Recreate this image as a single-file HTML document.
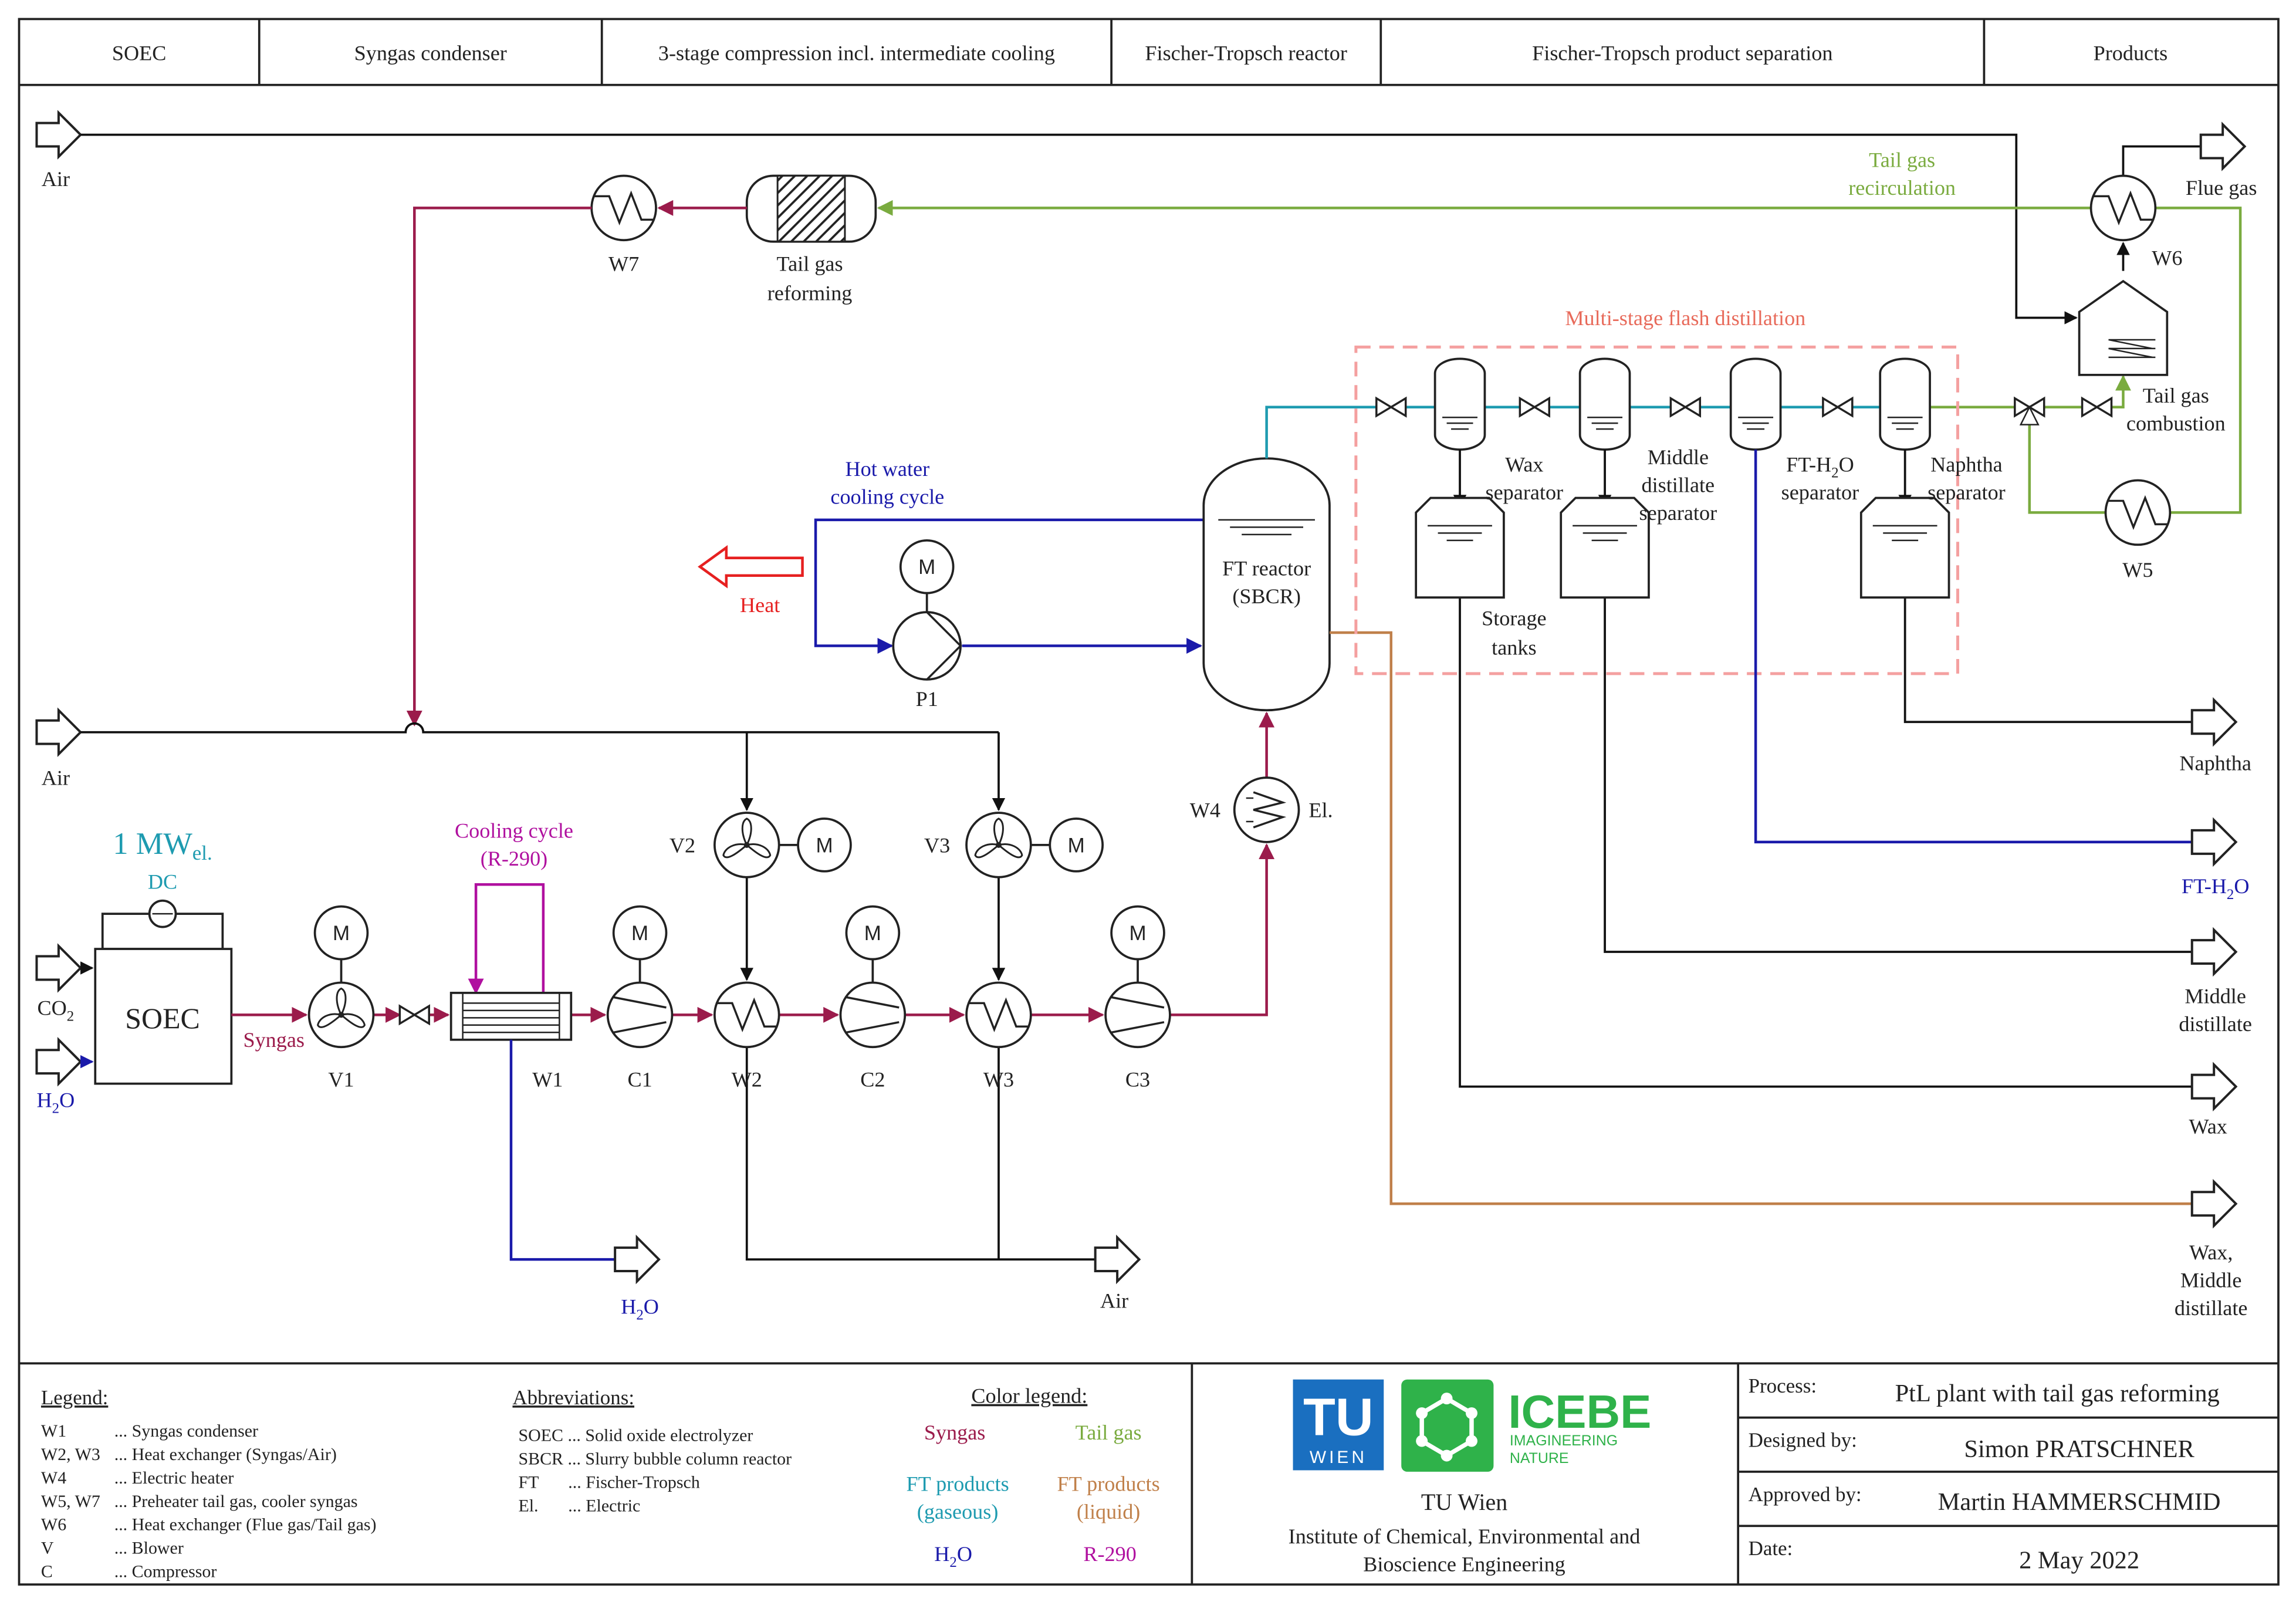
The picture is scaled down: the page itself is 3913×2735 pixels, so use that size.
<!DOCTYPE html>
<html><head><meta charset="utf-8"><style>
html,body{margin:0;padding:0;background:#fff}
svg{display:block}
text{font-family:"Liberation Serif",serif;font-size:14.5px;fill:#222}
.c{text-anchor:middle}
</style></head><body>
<svg width="3913" height="2735" viewBox="0 0 1568 1096" xmlns="http://www.w3.org/2000/svg">
<defs>
<marker id="a" viewBox="0 0 10 10" refX="9" refY="5" markerWidth="6" markerHeight="6" orient="auto-start-reverse"><path d="M0,0L10,5L0,10z" fill="context-stroke"/></marker>
<marker id="ak" viewBox="0 0 10 10" refX="9" refY="5" markerWidth="6" markerHeight="6" orient="auto"><path d="M0,0L10,5L0,10z" fill="#111"/></marker>
<marker id="am" viewBox="0 0 10 10" refX="9" refY="5" markerWidth="6" markerHeight="6" orient="auto"><path d="M0,0L10,5L0,10z" fill="#9b1b4b"/></marker>
<marker id="ab" viewBox="0 0 10 10" refX="9" refY="5" markerWidth="6" markerHeight="6" orient="auto"><path d="M0,0L10,5L0,10z" fill="#1a1aaa"/></marker>
<marker id="ag" viewBox="0 0 10 10" refX="9" refY="5" markerWidth="6" markerHeight="6" orient="auto"><path d="M0,0L10,5L0,10z" fill="#7aab3f"/></marker>
<pattern id="h" width="6" height="6" patternUnits="userSpaceOnUse" patternTransform="rotate(45)"><rect width="6" height="6" fill="#fff"/><line x1="0" y1="0" x2="0" y2="6" stroke="#222" stroke-width="3"/></pattern>
<g id="arr"><path d="M0,-8H15V-15L30,0L15,15V8H0Z" fill="#fff" stroke="#222" stroke-width="1.6"/></g>
<g id="mot"><circle r="18" fill="#fff" stroke="#222" stroke-width="1.5"/><text y="5" class="c" style="font-family:'Liberation Sans',sans-serif;font-size:14px">M</text></g>
<g id="hx"><circle r="22" fill="#fff" stroke="#222" stroke-width="1.5"/><path d="M-20,-8L-10,-8L-3,10L5,-10L12,8L20,8" fill="none" stroke="#222" stroke-width="1.4"/></g>
<g id="cmp"><circle r="22" fill="#fff" stroke="#222" stroke-width="1.5"/><path d="M-18,-12L18,-5M-18,12L18,5" stroke="#222" stroke-width="1.4"/></g>
<g id="blw"><circle r="22" fill="#fff" stroke="#222" stroke-width="1.5"/><path d="M0,0C-4,-8 -4,-16 0,-18C4,-16 4,-8 0,0ZM0,0C8,-2 15,2 16,7C14,11 7,6 0,0ZM0,0C-8,-2 -15,2 -16,7C-14,11 -7,6 0,0Z" fill="#fff" stroke="#222" stroke-width="1.2"/><circle r="2" fill="#222"/></g>
<g id="vlv"><path d="M-10,-6L10,6L10,-6L-10,6Z" fill="#fff" stroke="#222" stroke-width="1.4"/></g>
<g id="sep"><path d="M-17,-50A17,10 0 0 1 17,-50V-8A17,10 0 0 1 -17,-8Z" fill="#fff" stroke="#222" stroke-width="1.5"/><path d="M-12,-20H12M-9,-16H9M-6,-12H6" stroke="#222"/></g>
<g id="tank"><path d="M-30,-35L-20,-45H20L30,-35V23H-30Z" fill="#fff" stroke="#222" stroke-width="1.5"/><path d="M-22,-26H22M-15,-21H15M-9,-16H9" stroke="#222"/></g>
</defs>

<!-- frame -->
<rect x="13" y="13" width="1543" height="1069" fill="none" stroke="#222" stroke-width="1.5"/>
<line x1="13" y1="58" x2="1556" y2="58" stroke="#222" stroke-width="1.5"/>
<g stroke="#222" stroke-width="1.5"><line x1="177" y1="13" x2="177" y2="58"/><line x1="411" y1="13" x2="411" y2="58"/><line x1="759" y1="13" x2="759" y2="58"/><line x1="943" y1="13" x2="943" y2="58"/><line x1="1355" y1="13" x2="1355" y2="58"/>
<line x1="13" y1="931" x2="1556" y2="931"/><line x1="814" y1="931" x2="814" y2="1082"/><line x1="1187" y1="931" x2="1187" y2="1082"/>
<line x1="1187" y1="968" x2="1556" y2="968"/><line x1="1187" y1="1005" x2="1556" y2="1005"/><line x1="1187" y1="1042" x2="1556" y2="1042"/></g>
<g class="c"><text x="95" y="41" class="c">SOEC</text><text x="294" y="41" class="c">Syngas condenser</text><text x="585" y="41" class="c">3-stage compression incl. intermediate cooling</text><text x="851" y="41" class="c">Fischer-Tropsch reactor</text><text x="1149" y="41" class="c">Fischer-Tropsch product separation</text><text x="1455" y="41" class="c">Products</text></g>

<!-- top air line -->
<use href="#arr" x="25" y="92"/><text x="38" y="127" class="c">Air</text>
<polyline points="55,92 1377,92 1377,217 1418,217" fill="none" stroke="#111" stroke-width="1.5" marker-end="url(#ak)"/>
<!-- flue gas -->
<polyline points="1450,185 1450,166" fill="none" stroke="#111" stroke-width="1.5" marker-end="url(#ak)"/>
<polyline points="1450,120 1450,100 1503,100" fill="none" stroke="#111" stroke-width="1.5"/>
<use href="#arr" x="1503" y="100"/><text x="1517" y="133" class="c">Flue gas</text>
<!-- green tail gas -->
<polyline points="1472,142 1530,142 1530,350 1482,350" fill="none" stroke="#7aab3f" stroke-width="1.8"/>
<polyline points="1428,142 600,142" fill="none" stroke="#7aab3f" stroke-width="1.8" marker-end="url(#ag)"/>
<polyline points="1318,278 1376,278" fill="none" stroke="#7aab3f" stroke-width="1.8"/>
<polyline points="1396,278 1422,278" fill="none" stroke="#7aab3f" stroke-width="1.8"/>
<polyline points="1442,278 1450,278 1450,257" fill="none" stroke="#7aab3f" stroke-width="1.8" marker-end="url(#ag)"/>
<polyline points="1386,288 1386,350 1438,350" fill="none" stroke="#7aab3f" stroke-width="1.8"/>
<text x="1299" y="114" class="c" style="fill:#7aab3f">Tail gas</text><text x="1299" y="133" class="c" style="fill:#7aab3f">recirculation</text>
<use href="#hx" x="1450" y="142"/><text x="1480" y="181" class="c">W6</text>
<use href="#hx" x="1460" y="350"/><text x="1460" y="394" class="c">W5</text>
<use href="#vlv" x="1432" y="278"/><use href="#vlv" x="1386" y="278"/><path d="M1380,290L1392,290L1386,278Z" fill="#fff" stroke="#222"/>
<!-- combustion -->
<path d="M1420,213L1450,192L1480,213V256H1420Z" fill="#fff" stroke="#222" stroke-width="1.5"/>
<path d="M1440,232H1472M1440,232L1470,238M1440,238H1472M1440,238L1470,244M1440,244H1472" stroke="#222" fill="none"/>
<text x="1486" y="275" class="c">Tail gas</text><text x="1486" y="294" class="c">combustion</text>
<!-- reformer + W7 -->
<rect x="510" y="120" width="88" height="45" rx="18" fill="#fff" stroke="#222" stroke-width="1.5"/>
<rect x="531" y="120" width="46" height="45" fill="url(#h)" stroke="#222" stroke-width="1.2"/>
<text x="553" y="185" class="c">Tail gas</text><text x="553" y="205" class="c">reforming</text>
<polyline points="510,142 450,142" fill="none" stroke="#9b1b4b" stroke-width="1.8" marker-end="url(#am)"/>
<use href="#hx" x="426" y="142"/><text x="426" y="185" class="c">W7</text>
<polyline points="404,142 283,142 283,495 M283,505 283,681" fill="none" stroke="#9b1b4b" stroke-width="1.8" marker-end="url(#am)"/>
<!-- mid air line -->
<use href="#arr" x="25" y="500"/><text x="38" y="536" class="c">Air</text>
<path d="M55,500H277A6,6 0 0 1 289,500H682" fill="none" stroke="#111" stroke-width="1.5"/>
<polyline points="510,500 510,553" fill="none" stroke="#111" stroke-width="1.5" marker-end="url(#ak)"/>
<polyline points="682,500 682,553" fill="none" stroke="#111" stroke-width="1.5" marker-end="url(#ak)"/>
<polyline points="510,599 510,669" fill="none" stroke="#111" stroke-width="1.5" marker-end="url(#ak)"/>
<polyline points="682,599 682,669" fill="none" stroke="#111" stroke-width="1.5" marker-end="url(#ak)"/>
<polyline points="510,715 510,860 750,860" fill="none" stroke="#111" stroke-width="1.5"/>
<polyline points="682,715 682,860" fill="none" stroke="#111" stroke-width="1.5"/>
<use href="#arr" x="748" y="860"/><text x="761" y="893" class="c">Air</text>
<line x1="532" y1="577" x2="545" y2="577" stroke="#222" stroke-width="1.5"/><line x1="704" y1="577" x2="717" y2="577" stroke="#222" stroke-width="1.5"/>
<use href="#blw" x="510" y="577"/><use href="#mot" x="563" y="577"/><text x="466" y="582" class="c">V2</text>
<use href="#blw" x="682" y="577"/><use href="#mot" x="735" y="577"/><text x="640" y="582" class="c">V3</text>
<!-- SOEC -->
<rect x="70" y="624" width="82" height="24" fill="none" stroke="#222" stroke-width="1.5"/>
<rect x="65" y="648" width="93" height="92" fill="#fff" stroke="#222" stroke-width="1.5"/>
<circle cx="111" cy="624" r="9" fill="#fff" stroke="#222" stroke-width="1.5"/><path d="M104,624H118" stroke="#222"/>
<text x="111" y="702" class="c" style="font-size:20px">SOEC</text>
<text x="111" y="583" class="c" style="fill:#1e9bb0;font-size:21px">1 MW<tspan style="font-size:14px" dy="4">el.</tspan></text>
<text x="111" y="607" class="c" style="fill:#1e9bb0">DC</text>
<use href="#arr" x="25" y="661"/><polyline points="55,661 63,661" stroke="#111" stroke-width="1.5" marker-end="url(#ak)"/>
<text x="38" y="693" class="c">CO<tspan dy="4" style="font-size:10px">2</tspan></text>
<use href="#arr" x="25" y="725"/><polyline points="55,725 63,725" stroke="#1a1aaa" stroke-width="1.5" marker-end="url(#ab)"/>
<text x="38" y="756" class="c" style="fill:#1a1aaa">H<tspan dy="4" style="font-size:10px">2</tspan><tspan dy="-4">O</tspan></text>
<!-- syngas line -->
<g fill="none" stroke="#9b1b4b" stroke-width="1.8">
<polyline points="158,693 209,693" marker-end="url(#am)"/>
<polyline points="255,693 273,693" marker-end="url(#am)"/>
<polyline points="293,693 306,693" marker-end="url(#am)"/>
<polyline points="390,693 413,693" marker-end="url(#am)"/>
<polyline points="459,693 486,693" marker-end="url(#am)"/>
<polyline points="532,693 572,693" marker-end="url(#am)"/>
<polyline points="618,693 658,693" marker-end="url(#am)"/>
<polyline points="704,693 753,693" marker-end="url(#am)"/>
<polyline points="799,693 865,693 865,577" marker-end="url(#am)"/>
<polyline points="865,531 865,487" marker-end="url(#am)"/>
</g>
<text x="187" y="715" class="c" style="fill:#9b1b4b">Syngas</text>
<use href="#blw" x="233" y="693"/><use href="#vlv" x="283" y="693"/>
<line x1="233" y1="655" x2="233" y2="671" stroke="#222" stroke-width="1.5"/><use href="#mot" x="233" y="637"/>
<!-- W1 -->
<polyline points="325,678 325,604 371,604 371,678" fill="none" stroke="#b0109f" stroke-width="1.8" marker-start="url(#a)"/>
<rect x="308" y="678" width="82" height="32" fill="#fff" stroke="#222" stroke-width="1.5"/>
<path d="M316,678V710M382,678V710M316,685H382M316,690H382M316,695H382M316,700H382M316,705H382" stroke="#222"/>
<text x="351" y="572" class="c" style="fill:#b0109f">Cooling cycle</text><text x="351" y="591" class="c" style="fill:#b0109f">(R-290)</text>
<polyline points="349,710 349,860 420,860" fill="none" stroke="#1a1aaa" stroke-width="1.8"/>
<use href="#arr" x="420" y="860"/><text x="437" y="897" class="c" style="fill:#1a1aaa">H<tspan dy="4" style="font-size:10px">2</tspan><tspan dy="-4">O</tspan></text>
<use href="#cmp" x="437" y="693"/><line x1="437" y1="655" x2="437" y2="671" stroke="#222" stroke-width="1.5"/><use href="#mot" x="437" y="637"/>
<use href="#hx" x="510" y="693"/>
<use href="#cmp" x="596" y="693"/><line x1="596" y1="655" x2="596" y2="671" stroke="#222" stroke-width="1.5"/><use href="#mot" x="596" y="637"/>
<use href="#hx" x="682" y="693"/>
<use href="#cmp" x="777" y="693"/><line x1="777" y1="655" x2="777" y2="671" stroke="#222" stroke-width="1.5"/><use href="#mot" x="777" y="637"/>
<g class="c"><text x="233" y="742" class="c">V1</text><text x="374" y="742" class="c">W1</text><text x="437" y="742" class="c">C1</text><text x="510" y="742" class="c">W2</text><text x="596" y="742" class="c">C2</text><text x="682" y="742" class="c">W3</text><text x="777" y="742" class="c">C3</text></g>
<!-- W4 -->
<circle cx="865" cy="553" r="22" fill="#fff" stroke="#222" stroke-width="1.5"/>
<path d="M856,541L876,548L856,553L876,558L856,565" fill="none" stroke="#222" stroke-width="1.4"/><path d="M851,545H856M851,561H856" stroke="#222"/>
<text x="823" y="558" class="c">W4</text><text x="902" y="558" class="c">El.</text>
<!-- hot water cycle -->
<polyline points="822,355 557,355 557,441 609,441" fill="none" stroke="#1a1aaa" stroke-width="1.8" marker-end="url(#ab)"/>
<polyline points="657,441 820,441" fill="none" stroke="#1a1aaa" stroke-width="1.8" marker-end="url(#ab)"/>
<text x="606" y="325" class="c" style="fill:#1a1aaa">Hot water</text><text x="606" y="344" class="c" style="fill:#1a1aaa">cooling cycle</text>
<circle cx="633" cy="441" r="23" fill="#fff" stroke="#222" stroke-width="1.5"/><path d="M633,418L656,441L633,464" fill="none" stroke="#222" stroke-width="1.4"/>
<line x1="633" y1="405" x2="633" y2="418" stroke="#222" stroke-width="1.5"/><use href="#mot" x="633" y="387"/>
<text x="633" y="482" class="c">P1</text>
<path d="M548,381V393H496V400L478,387L496,374V381Z" fill="#fff" stroke="#e62020" stroke-width="1.8"/>
<text x="519" y="418" class="c" style="fill:#e62020">Heat</text>
<!-- FT reactor -->
<path d="M822,345A43,32 0 0 1 908,345V453A43,32 0 0 1 822,453Z" fill="#fff" stroke="#222" stroke-width="1.5"/>
<path d="M832,355H898M840,360H890M848,365H882" stroke="#222"/>
<text x="865" y="393" class="c">FT reactor</text><text x="865" y="412" class="c">(SBCR)</text>
<!-- brown -->
<polyline points="908,432 950,432 950,822 1503,822" fill="none" stroke="#c0804a" stroke-width="1.8"/>
<use href="#arr" x="1497" y="822"/>
<text x="1510" y="860" class="c">Wax,</text><text x="1510" y="879" class="c">Middle</text><text x="1510" y="898" class="c">distillate</text>
<!-- teal line -->
<g fill="none" stroke="#1e9bb0" stroke-width="1.8">
<polyline points="865,313 865,278 940,278"/><polyline points="960,278 980,278"/><polyline points="1014,278 1038,278"/><polyline points="1058,278 1079,278"/><polyline points="1113,278 1141,278"/><polyline points="1161,278 1182,278"/><polyline points="1216,278 1245,278"/><polyline points="1265,278 1284,278"/>
</g>
<use href="#vlv" x="950" y="278"/><use href="#vlv" x="1048" y="278"/><use href="#vlv" x="1151" y="278"/><use href="#vlv" x="1255" y="278"/>
<rect x="926" y="237" width="411" height="223" fill="none" stroke="#f4a0a0" stroke-width="2" stroke-dasharray="10,6"/>
<text x="1151" y="222" class="c" style="fill:#e86a5a">Multi-stage flash distillation</text>
<use href="#sep" x="997" y="305"/><use href="#sep" x="1096" y="305"/><use href="#sep" x="1199" y="305"/><use href="#sep" x="1301" y="305"/>
<g fill="none" stroke="#111" stroke-width="1.5">
<polyline points="997,307 997,346" marker-end="url(#ak)"/><polyline points="1096,307 1096,346" marker-end="url(#ak)"/><polyline points="1301,307 1301,346" marker-end="url(#ak)"/>
<polyline points="997,408 997,742 1503,742"/><polyline points="1096,408 1096,650 1503,650"/><polyline points="1301,408 1301,493 1503,493"/>
</g>
<polyline points="1199,307 1199,575 1503,575" fill="none" stroke="#1a1aaa" stroke-width="1.8"/>
<use href="#tank" x="997" y="385"/><use href="#tank" x="1096" y="385"/><use href="#tank" x="1301" y="385"/>
<text x="1041" y="322" class="c">Wax</text><text x="1041" y="341" class="c">separator</text>
<text x="1146" y="317" class="c">Middle</text><text x="1146" y="336" class="c">distillate</text><text x="1146" y="355" class="c">separator</text>
<text x="1243" y="322" class="c">FT-H<tspan dy="4" style="font-size:10px">2</tspan><tspan dy="-4">O</tspan></text><text x="1243" y="341" class="c">separator</text>
<text x="1343" y="322" class="c">Naphtha</text><text x="1343" y="341" class="c">separator</text>
<text x="1034" y="427" class="c">Storage</text><text x="1034" y="447" class="c">tanks</text>
<use href="#arr" x="1497" y="493"/><text x="1513" y="526" class="c">Naphtha</text>
<use href="#arr" x="1497" y="575"/><text x="1513" y="610" class="c" style="fill:#1a1aaa">FT-H<tspan dy="4" style="font-size:10px">2</tspan><tspan dy="-4">O</tspan></text>
<use href="#arr" x="1497" y="650"/><text x="1513" y="685" class="c">Middle</text><text x="1513" y="704" class="c">distillate</text>
<use href="#arr" x="1497" y="742"/><text x="1508" y="774" class="c">Wax</text>

<!-- legend -->
<g style="font-size:12px">
<text x="28" y="959" style="font-size:14px;text-decoration:underline">Legend:</text>
<text x="28" y="981" style="font-size:12px">W1</text><text x="78" y="981" style="font-size:12px">... Syngas condenser</text>
<text x="28" y="997" style="font-size:12px">W2, W3</text><text x="78" y="997" style="font-size:12px">... Heat exchanger (Syngas/Air)</text>
<text x="28" y="1013" style="font-size:12px">W4</text><text x="78" y="1013" style="font-size:12px">... Electric heater</text>
<text x="28" y="1029" style="font-size:12px">W5, W7</text><text x="78" y="1029" style="font-size:12px">... Preheater tail gas, cooler syngas</text>
<text x="28" y="1045" style="font-size:12px">W6</text><text x="78" y="1045" style="font-size:12px">... Heat exchanger (Flue gas/Tail gas)</text>
<text x="28" y="1061" style="font-size:12px">V</text><text x="78" y="1061" style="font-size:12px">... Blower</text>
<text x="28" y="1077" style="font-size:12px">C</text><text x="78" y="1077" style="font-size:12px">... Compressor</text>
<text x="350" y="959" style="font-size:14px;text-decoration:underline">Abbreviations:</text>
<text x="354" y="984" style="font-size:12px">SOEC ... Solid oxide electrolyzer</text>
<text x="354" y="1000" style="font-size:12px">SBCR ... Slurry bubble column reactor</text>
<text x="354" y="1016" style="font-size:12px">FT</text><text x="388" y="1016" style="font-size:12px">... Fischer-Tropsch</text>
<text x="354" y="1032" style="font-size:12px">El.</text><text x="388" y="1032" style="font-size:12px">... Electric</text>
</g>
<text x="703" y="958" class="c" style="text-decoration:underline">Color legend:</text>
<text x="652" y="983" class="c" style="fill:#9b1b4b">Syngas</text><text x="757" y="983" class="c" style="fill:#7aab3f">Tail gas</text>
<text x="654" y="1018" class="c" style="fill:#1e9bb0">FT products</text><text x="654" y="1037" class="c" style="fill:#1e9bb0">(gaseous)</text>
<text x="757" y="1018" class="c" style="fill:#c0804a">FT products</text><text x="757" y="1037" class="c" style="fill:#c0804a">(liquid)</text>
<text x="651" y="1066" class="c" style="fill:#1a1aaa">H<tspan dy="4" style="font-size:10px">2</tspan><tspan dy="-4">O</tspan></text><text x="758" y="1066" class="c" style="fill:#b0109f">R-290</text>
<!-- logos -->
<rect x="883" y="942" width="62" height="62" fill="#1a6fc0"/>
<text x="914" y="980" class="c" style="fill:#fff;font-family:'Liberation Sans',sans-serif;font-size:36px;font-weight:bold">TU</text>
<text x="914" y="999" class="c" style="fill:#fff;font-family:'Liberation Sans',sans-serif;font-size:12px;letter-spacing:2px">WIEN</text>
<rect x="957" y="942" width="63" height="63" rx="4" fill="#2fb24a"/>
<polygon points="988,955 1005,965 1005,984 988,994 971,984 971,965" fill="none" stroke="#fff" stroke-width="3"/>
<g fill="#fff"><circle cx="988" cy="955" r="4"/><circle cx="1005" cy="965" r="4"/><circle cx="1005" cy="984" r="4"/><circle cx="988" cy="994" r="4"/><circle cx="971" cy="984" r="4"/><circle cx="971" cy="965" r="4"/></g>
<text x="1030" y="975" style="fill:#2fb24a;font-family:'Liberation Sans',sans-serif;font-size:32px;font-weight:bold">ICEBE</text>
<text x="1031" y="987" style="fill:#2fb24a;font-family:'Liberation Sans',sans-serif;font-size:10px">IMAGINEERING</text>
<text x="1031" y="999" style="fill:#2fb24a;font-family:'Liberation Sans',sans-serif;font-size:10px">NATURE</text>
<text x="1000" y="1031" class="c" style="font-size:16px">TU Wien</text>
<text x="1000" y="1054" class="c">Institute of Chemical, Environmental and</text>
<text x="1000" y="1073" class="c">Bioscience Engineering</text>
<!-- table -->
<text x="1194" y="951" style="font-size:14px">Process:</text><text x="1405" y="957" class="c" style="font-size:17px">PtL plant with tail gas reforming</text>
<text x="1194" y="988" style="font-size:14px">Designed by:</text><text x="1420" y="995" class="c" style="font-size:17px">Simon PRATSCHNER</text>
<text x="1194" y="1025" style="font-size:14px">Approved by:</text><text x="1420" y="1031" class="c" style="font-size:17px">Martin HAMMERSCHMID</text>
<text x="1194" y="1062" style="font-size:14px">Date:</text><text x="1420" y="1071" class="c" style="font-size:17px">2 May 2022</text>
</svg>
</body></html>
